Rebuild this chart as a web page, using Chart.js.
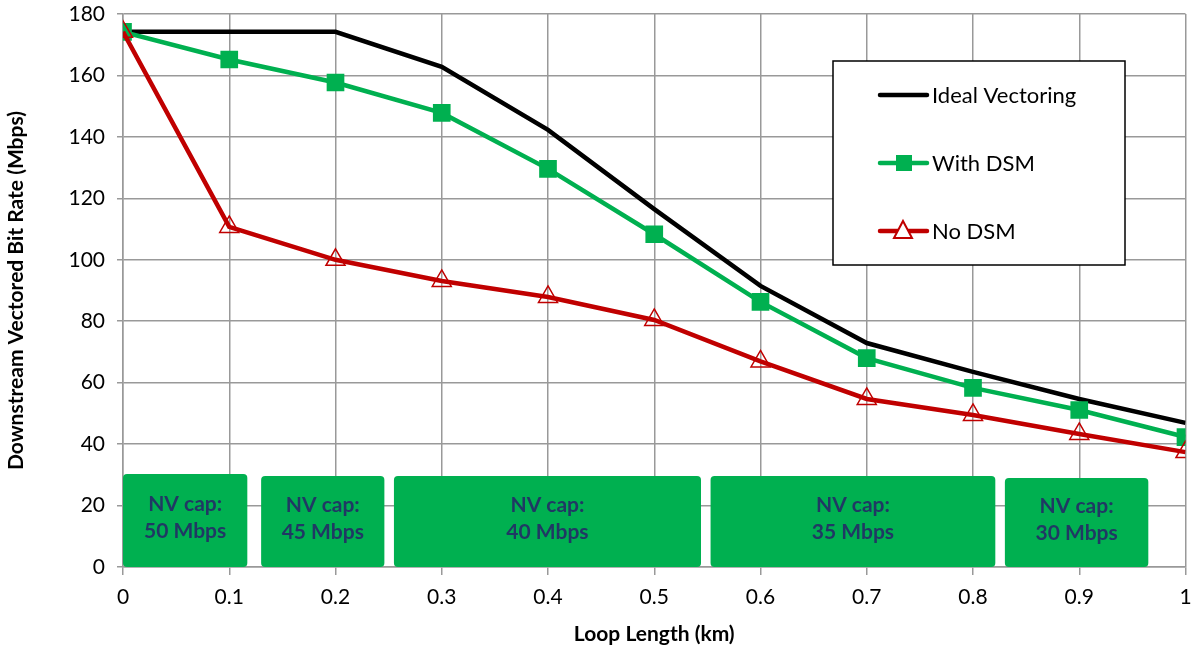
<!DOCTYPE html>
<html>
<head>
<meta charset="utf-8">
<script src="https://cdn.jsdelivr.net/npm/chart.js@4.4.1/dist/chart.umd.min.js"></script>
<style>
  html, body { margin: 0; padding: 0; background: #fff; }
  #wrap { width: 1198px; height: 651px; position: relative; }
</style>
</head>
<body>
<div id="wrap"><canvas id="chart"></canvas></div>
<script>
const loopLength = [0, 0.1, 0.2, 0.3, 0.4, 0.5, 0.6, 0.7, 0.8, 0.9, 1];
const idealVectoring = [174.2, 174.2, 174.2, 162.8, 142.3, 116.5, 91.5, 72.9, 63.5, 54.7, 46.9];
const withDSM = [174.2, 165.2, 157.7, 147.8, 129.6, 108.3, 86.3, 68.0, 58.3, 51.1, 42.3];
const noDSM = [174.2, 110.7, 100.0, 93.1, 87.9, 80.4, 66.9, 54.7, 49.5, 43.3, 37.4];

// NV cap regions (km along x, Mbps height on y)
const capLabels = ["50 Mbps", "45 Mbps", "40 Mbps", "35 Mbps", "30 Mbps"];
const capStart = [0, 0.13, 0.255, 0.553, 0.83];
const capEnd = [0.117, 0.246, 0.544, 0.821, 0.965];
const capTop = [30.3, 29.6, 29.6, 29.6, 29.0];

const FONT = "Lato, 'Open Sans', sans-serif";
const GRID = "#999999";

function toPoints(ys) {
  return loopLength.map((x, i) => ({ x: x, y: ys[i] }));
}

/* cap boxes under the lines */
const capBoxes = {
  id: "capBoxes",
  beforeDatasetsDraw(chart) {
    const { ctx, scales } = chart;
    const x = scales.x, y = scales.y;
    ctx.save();
    for (let i = 0; i < capLabels.length; i++) {
      const x0 = x.getPixelForValue(capStart[i]);
      const x1 = x.getPixelForValue(capEnd[i]);
      const y0 = y.getPixelForValue(capTop[i]);
      const y1 = y.getPixelForValue(0);
      ctx.fillStyle = "#00B050";
      ctx.beginPath();
      ctx.roundRect(x0, y0, x1 - x0, y1 - y0, 4);
      ctx.fill();
      const cx = (x0 + x1) / 2;
      const cy = (y0 + y1) / 2;
      ctx.fillStyle = "#203864";
      ctx.font = "bold 21px " + FONT;
      ctx.textAlign = "center";
      ctx.textBaseline = "middle";
      ctx.fillText("NV cap:", cx, cy - 16);
      ctx.fillText(capLabels[i], cx, cy + 11);
    }
    ctx.restore();
  }
};

/* boxed legend inside the plot */
const boxLegend = {
  id: "boxLegend",
  afterDatasetsDraw(chart) {
    const { ctx } = chart;
    const left = 833, top = 61, w = 292, h = 204;
    ctx.save();
    ctx.fillStyle = "#fff";
    ctx.fillRect(left, top, w, h);
    ctx.strokeStyle = "#000";
    ctx.lineWidth = 1.5;
    ctx.strokeRect(left, top, w, h);
    const rows = [95, 163, 231];
    chart.data.datasets.forEach((ds, i) => {
      const ry = rows[i];
      ctx.strokeStyle = ds.borderColor;
      ctx.lineWidth = 4.5;
      ctx.lineCap = "round";
      ctx.beginPath();
      ctx.moveTo(880, ry);
      ctx.lineTo(927, ry);
      ctx.stroke();
      if (ds.pointStyle === "rect") {
        ctx.fillStyle = ds.pointBackgroundColor;
        ctx.fillRect(896, ry - 8, 16, 16);
      } else if (ds.pointStyle === "triangle") {
        ctx.fillStyle = "#fff";
        ctx.strokeStyle = ds.pointBorderColor;
        ctx.lineWidth = 2;
        ctx.beginPath();
        ctx.moveTo(903, ry - 10);
        ctx.lineTo(912, ry + 7);
        ctx.lineTo(894, ry + 7);
        ctx.closePath();
        ctx.fill();
        ctx.stroke();
      }
      ctx.fillStyle = "#000";
      ctx.font = "22px " + FONT;
      ctx.textAlign = "left";
      ctx.textBaseline = "middle";
      ctx.fillText(ds.label, 932, ry + 1);
    });
    ctx.restore();
  }
};

new Chart(document.getElementById("chart"), {
  type: "line",
  data: {
    datasets: [
      {
        label: "Ideal Vectoring",
        data: toPoints(idealVectoring),
        borderColor: "#000000",
        borderWidth: 4.5,
        pointRadius: 0,
        pointStyle: false,
        order: 3
      },
      {
        label: "With DSM",
        data: toPoints(withDSM),
        borderColor: "#00B050",
        borderWidth: 4.5,
        pointStyle: "rect",
        pointRadius: 12.5,
        pointBackgroundColor: "#00B050",
        pointBorderColor: "#00B050",
        pointBorderWidth: 0,
        order: 2
      },
      {
        label: "No DSM",
        data: toPoints(noDSM),
        borderColor: "#C00000",
        borderWidth: 4.5,
        pointStyle: "triangle",
        pointRadius: 11,
        pointBackgroundColor: "rgba(255,255,255,0)",
        pointBorderColor: "#C00000",
        pointBorderWidth: 1.5,
        order: 1
      }
    ]
  },
  options: {
    responsive: true,
    maintainAspectRatio: false,
    animation: false,
    layout: { padding: { top: 14, right: 8, left: 0, bottom: 0 } },
    plugins: {
      legend: { display: false },
      tooltip: { enabled: false }
    },
    elements: { line: { tension: 0 } },
    scales: {
      x: {
        type: "linear",
        min: 0,
        max: 1,
        afterFit(scale) {
          scale.height = 84;
          scale.paddingLeft = 0;
          scale.paddingRight = 0;
        },
        ticks: {
          stepSize: 0.1,
          color: "#000",
          font: { family: FONT, size: 21 },
          padding: 10,
          callback: (v) => Number(v.toFixed(1)).toString()
        },
        grid: { color: GRID, lineWidth: 1.5, tickLength: 8 },
        border: { color: GRID, width: 1.5 },
        title: {
          display: true,
          text: "Loop Length (km)",
          color: "#000",
          font: { family: FONT, size: 21, weight: "bold" },
          padding: { top: 2 }
        }
      },
      y: {
        min: 0,
        max: 180,
        afterFit(scale) {
          scale.width = 123;
          scale.paddingTop = 0;
          scale.paddingBottom = 0;
        },
        ticks: {
          stepSize: 20,
          color: "#000",
          font: { family: FONT, size: 21 },
          padding: 12
        },
        grid: { color: GRID, lineWidth: 1.5, tickLength: 6 },
        border: { color: GRID, width: 1.5 },
        title: {
          display: true,
          text: "Downstream Vectored Bit Rate (Mbps)",
          color: "#000",
          font: { family: FONT, size: 21, weight: "bold" },
          padding: { bottom: 4 }
        }
      }
    }
  },
  plugins: [capBoxes, boxLegend]
});
</script>
</body>
</html>
